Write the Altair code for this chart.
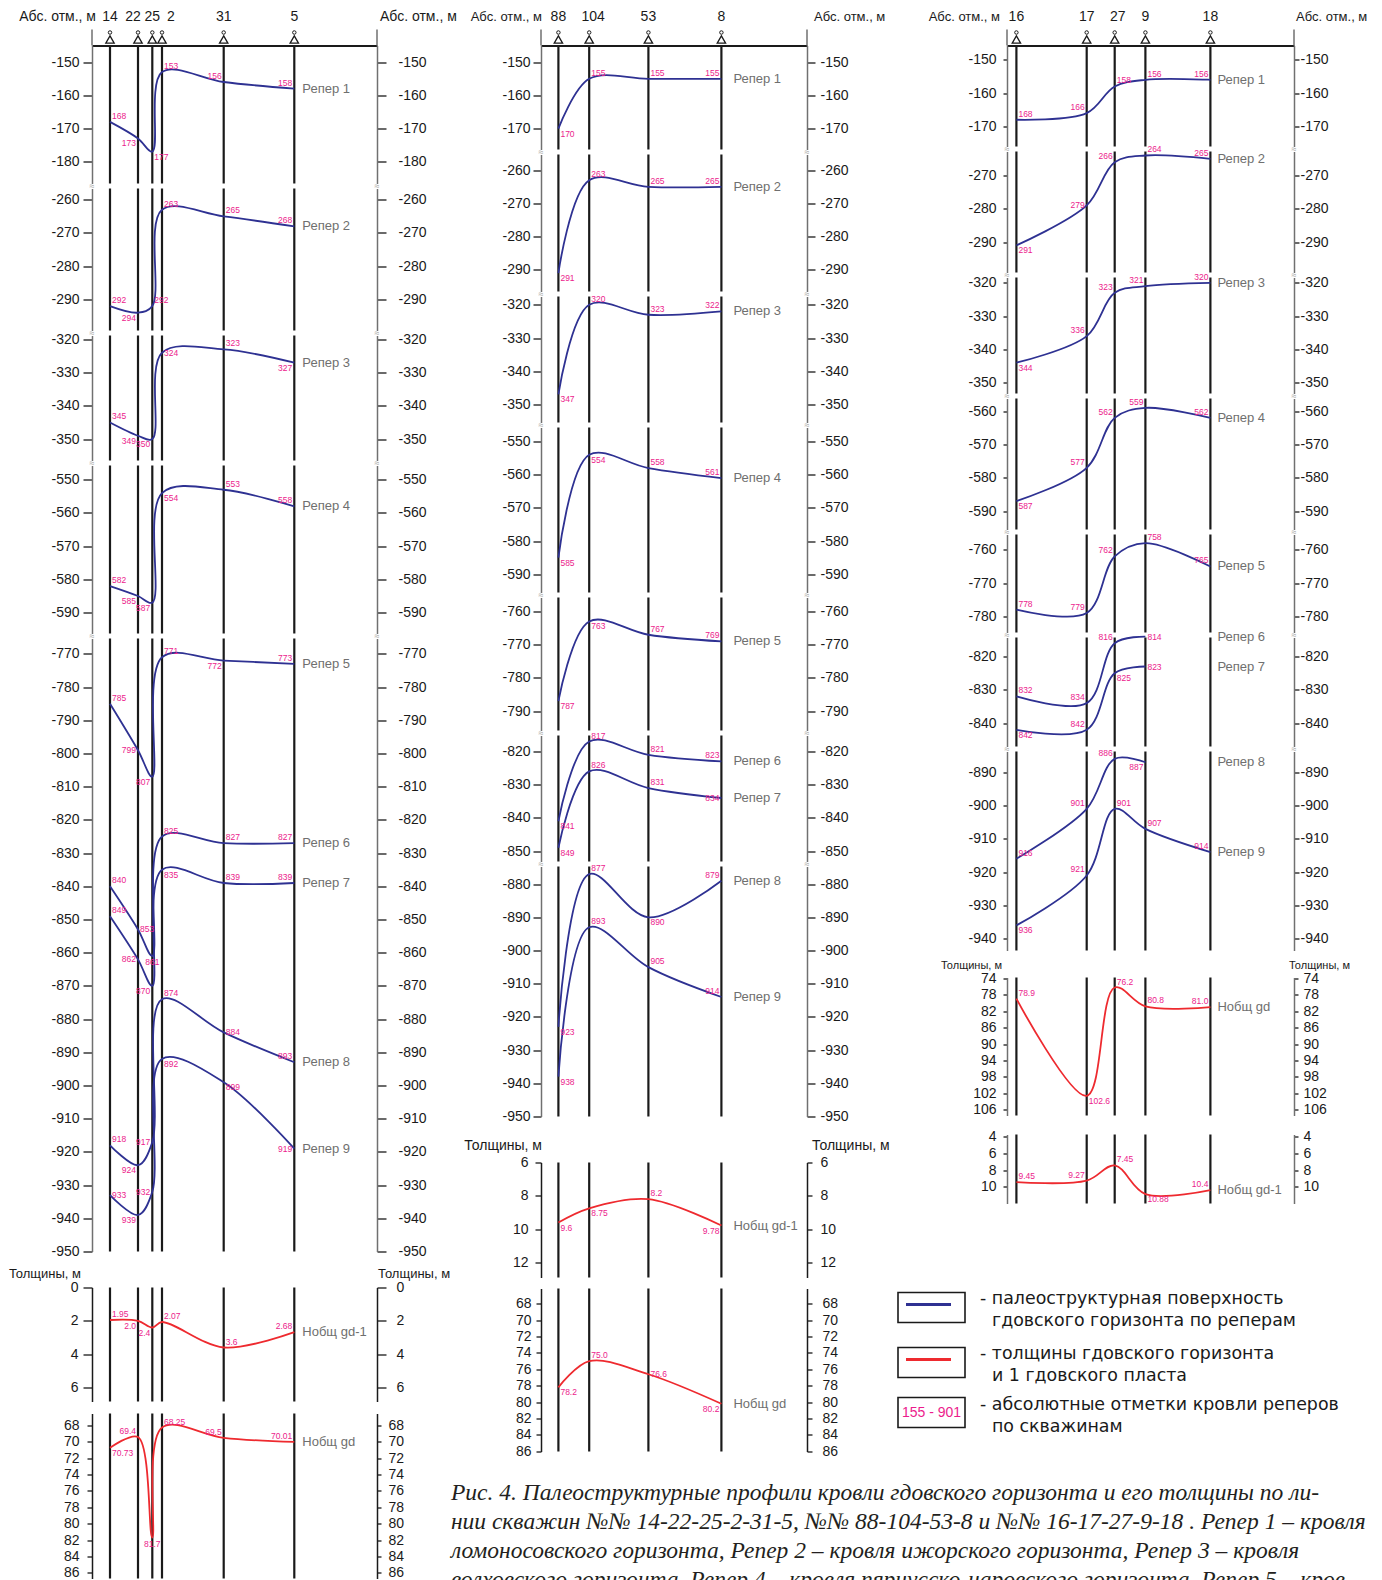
import altair as alt
import pandas as pd

FONT = "Liberation Sans"
SERIF = "Liberation Serif"
LEGFONT = "DejaVu Sans"
BLUE = "#2E3192"
RED = "#EE2A2F"
MAG = "#EC1C8C"
TAG = "#6F6F6F"
AXG = "#707070"
INK = "#1A1A1A"

# ---------------- column 1 : wells 14-22-25-2-31-5 ----------------
c1_wells = ["14", "22", "25", "2", "31", "5"]
c1_dist = [18, 46, 60.3, 70, 131.7, 202.3]
c1_extent = 285
c1_tag_shift = [0, -5, 0, 9, 0, 0]
c1_r1 = [-168, -173, -177, -153, -156, -158]
c1_r2 = [-292, -294, -292, -263, -265, -268]
c1_r3 = [-345, -349, -350, -324, -323, -327]
c1_r4 = [-582, -585, -587, -554, -553, -558]
c1_r5 = [-785, -799, -807, -771, -772, -773]
c1_r6 = [-840, -853, -861, -825, -827, -827]
c1_r7 = [-849, -862, -870, -835, -839, -839]
c1_r8 = [-918, -924, -917, -874, -884, -893]
c1_r9 = [-933, -939, -932, -892, -899, -919]
c1_gd1 = [1.95, 2.0, 2.4, 2.07, 3.6, 2.68]
c1_gd = [70.73, 69.4, 81.7, 68.25, 69.5, 70.01]

# ---------------- column 2 : wells 88-104-53-8 ----------------
c2_wells = ["88", "104", "53", "8"]
c2_dist = [17.4, 48.2, 107.4, 180.4]
c2_extent = 266
c2_tag_shift = [0, 4, 0, 0]
c2_r1 = [-170, -155, -155, -155]
c2_r2 = [-291, -263, -265, -265]
c2_r3 = [-347, -320, -323, -322]
c2_r4 = [-585, -554, -558, -561]
c2_r5 = [-787, -763, -767, -769]
c2_r6 = [-841, -817, -821, -823]
c2_r7 = [-849, -826, -831, -834]
c2_r8 = [-923, -877, -890, -879]
c2_r9 = [-938, -893, -905, -914]
c2_gd1 = [9.6, 8.75, 8.2, 9.78]
c2_gd = [78.2, 75.0, 76.6, 80.2]

# ---------------- column 3 : wells 16-17-27-9-18 ----------------
c3_wells = ["16", "17", "27", "9", "18"]
c3_dist = [9.4, 79.7, 107.7, 138.4, 203.4]
c3_extent = 287
c3_tag_shift = [0, 0, 3, 0, 0]
c3_r1 = [-168, -166, -158, -156, -156]
c3_r2 = [-291, -279, -266, -264, -265]
c3_r3 = [-344, -336, -323, -321, -320]
c3_r4 = [-587, -577, -562, -559, -562]
c3_r5 = [-778, -779, -762, -758, -765]
c3_r6 = [-832, -834, -816, -814, None]
c3_r7 = [-842, -842, -825, -823, None]
c3_r8 = [-916, -901, -886, -887, None]
c3_r9 = [-936, -921, -901, -907, -914]
c3_gd = [78.9, 102.6, 76.2, 80.8, 81.0]
c3_gd1 = [9.45, 9.27, 7.45, 10.88, 10.4]

# label placement codes (r/l/c = side, a/b/m = above/below/middle)
c1_place = {
    "Репер 1": ["ra", "lb", "rb", "ra", "la", "la"],
    "Репер 2": ["ra", "lb", "ra", "ra", "ra", "la"],
    "Репер 3": ["ra", "lb", "lb", "rm", "ra", "lb"],
    "Репер 4": ["ra", "lb", "lb", "rb", "ra", "la"],
    "Репер 5": ["ra", "lm", "lb", "ra", "lb", "la"],
    "Репер 6": ["ra", "rm", "cb", "ra", "ra", "la"],
    "Репер 7": ["ra", "lm", "lb", "rb", "ra", "la"],
    "Репер 8": ["ra", "lb", "lm", "ra", "rm", "la"],
    "Репер 9": ["rm", "lb", "lm", "rb", "rb", "lm"],
    "Нобщ gd-1": ["ra", "lb", "lb", "ra", "ra", "la"],
    "Нобщ gd": ["rb", "la", "cb", "ra", "la", "la"],
}
c2_place = {
    "Репер 1": ["rb", "ra", "ra", "la"],
    "Репер 2": ["rb", "ra", "ra", "la"],
    "Репер 3": ["rb", "ra", "ra", "la"],
    "Репер 4": ["rb", "rb", "ra", "la"],
    "Репер 5": ["rb", "rb", "ra", "la"],
    "Репер 6": ["rb", "ra", "ra", "la"],
    "Репер 7": ["rb", "ra", "ra", "lm"],
    "Репер 8": ["rb", "ra", "rb", "la"],
    "Репер 9": ["rb", "ra", "ra", "la"],
    "Нобщ gd-1": ["rb", "rb", "ra", "lb"],
    "Нобщ gd": ["rb", "ra", "rm", "lb"],
}
c3_place = {
    "Репер 1": ["ra", "la", "ra", "ra", "la"],
    "Репер 2": ["rb", "lm", "la", "ra", "la"],
    "Репер 3": ["rb", "la", "la", "la", "la"],
    "Репер 4": ["rb", "la", "la", "la", "la"],
    "Репер 5": ["ra", "la", "la", "ra", "la"],
    "Репер 6": ["ra", "la", "la", "rm", "la"],
    "Репер 7": ["rb", "la", "rb", "rm", "la"],
    "Репер 8": ["ra", "la", "la", "lb", "la"],
    "Репер 9": ["rb", "la", "ra", "ra", "la"],
    "Нобщ gd": ["ra", "rb", "ra", "ra", "la"],
    "Нобщ gd-1": ["ra", "la", "ra", "rb", "la"],
}

PLACE = {
    "ra": ("left", "bottom", 2, -1),
    "rb": ("left", "top", 2, 1),
    "rm": ("left", "middle", 2, 0),
    "la": ("right", "bottom", -2, -1),
    "lb": ("right", "top", -2, 1),
    "lm": ("right", "middle", -2, 0),
    "cb": ("center", "top", 0, 2),
}

C1 = dict(wells=c1_wells, dist=c1_dist, extent=c1_extent, shift=c1_tag_shift, place=c1_place,
          series={"Репер 1": c1_r1, "Репер 2": c1_r2, "Репер 3": c1_r3, "Репер 4": c1_r4,
                  "Репер 5": c1_r5, "Репер 6": c1_r6, "Репер 7": c1_r7, "Репер 8": c1_r8,
                  "Репер 9": c1_r9, "Нобщ gd-1": c1_gd1, "Нобщ gd": c1_gd},
          abs_dx=(4, 3), abs_size=14, tag_dx=8)
C2 = dict(wells=c2_wells, dist=c2_dist, extent=c2_extent, shift=c2_tag_shift, place=c2_place,
          series={"Репер 1": c2_r1, "Репер 2": c2_r2, "Репер 3": c2_r3, "Репер 4": c2_r4,
                  "Репер 5": c2_r5, "Репер 6": c2_r6, "Репер 7": c2_r7, "Репер 8": c2_r8,
                  "Репер 9": c2_r9, "Нобщ gd-1": c2_gd1, "Нобщ gd": c2_gd},
          abs_dx=(1, 7), abs_size=13, tag_dx=12)
C3 = dict(wells=c3_wells, dist=c3_dist, extent=c3_extent, shift=c3_tag_shift, place=c3_place,
          series={"Репер 1": c3_r1, "Репер 2": c3_r2, "Репер 3": c3_r3, "Репер 4": c3_r4,
                  "Репер 5": c3_r5, "Репер 6": c3_r6, "Репер 7": c3_r7, "Репер 8": c3_r8,
                  "Репер 9": c3_r9, "Нобщ gd-1": c3_gd1, "Нобщ gd": c3_gd},
          abs_dx=(-7, 2), abs_size=13, tag_dx=7)


def xs(col):
    return alt.Scale(domain=[0, col["extent"]], nice=False, zero=False)


def frames(col):
    wells = pd.DataFrame({"w": col["wells"], "d": col["dist"], "sh": col["shift"]})
    edges = pd.DataFrame({"d": [0, col["extent"]]})
    return wells, edges


def header(col):
    W = col["extent"]
    H = 16
    wells, edges = frames(col)
    ax = alt.Axis(orient="bottom", domain=True, domainColor=INK, domainWidth=2, ticks=False,
                  labels=False, grid=False, title=None)

    def X(f):
        return alt.X(f + ":Q", scale=xs(col), axis=ax)

    one = pd.DataFrame({"t": ["Абс. отм., м"]})
    fs = col["abs_size"]
    L = [
        alt.Chart(edges).mark_rule(color=AXG, strokeWidth=1.5).encode(x=X("d")),
        alt.Chart(wells).mark_point(shape="triangle-up", filled=False, size=70, color=INK,
                                    strokeWidth=1.3, opacity=1).encode(x=X("d"), y=alt.value(H - 6)),
        alt.Chart(wells).mark_point(shape="circle", filled=False, size=12, color=INK,
                                    strokeWidth=1, opacity=1).encode(x=X("d"), y=alt.value(H - 13)),
        alt.Chart(wells).transform_calculate(lx="datum.d + datum.sh").mark_text(
            font=FONT, fontSize=14, color=INK, baseline="middle").encode(
            x=X("lx"), y=alt.value(-13), text="w:N"),
        alt.Chart(one).mark_text(font=FONT, fontSize=fs, color=INK, align="right", baseline="middle",
                                 dx=col["abs_dx"][0]).encode(x=alt.value(0), y=alt.value(-13), text="t:N"),
        alt.Chart(one).mark_text(font=FONT, fontSize=fs, color=INK, align="left", baseline="middle",
                                 dx=col["abs_dx"][1]).encode(x=alt.value(W), y=alt.value(-13), text="t:N"),
    ]
    return alt.layer(*L).properties(width=W, height=H)


def spacer(col, h, brk=True, label=None):
    W = col["extent"]
    _, edges = frames(col)
    L = [alt.Chart(edges).mark_text(text="≈", font=FONT, fontSize=9, color="#9a9a9a",
                                    opacity=1 if brk else 0).encode(
        x=alt.X("d:Q", scale=xs(col), axis=None), y=alt.value(h / 2))]
    if label:
        size, ly, ldx, rdx = label
        one = pd.DataFrame({"t": ["Толщины, м"]})
        L.append(alt.Chart(one).mark_text(font=FONT, fontSize=size, color=INK, align="right",
                                          baseline="middle", dx=ldx).encode(
            x=alt.value(0), y=alt.value(ly), text="t:N"))
        L.append(alt.Chart(one).mark_text(font=FONT, fontSize=size, color=INK, align="left",
                                          baseline="middle", dx=rdx).encode(
            x=alt.value(W), y=alt.value(ly), text="t:N"))
    return alt.layer(*L).properties(width=W, height=h)


def yaxis(orient, ticks, tick, pad, dcol):
    return alt.Axis(orient=orient, values=ticks, title=None, grid=False, tickSize=tick,
                    tickColor=INK, tickWidth=1.3, domainColor=dcol, domainWidth=1.5,
                    labelPadding=pad, labelFont=FONT, labelFontSize=14, labelColor=INK,
                    labelFlush=False, labelOverlap=False, labelBound=False,
                    labelExpr="'' + datum.value")


def panel(col, names, top, bottom, h, ticks, kind, ax):
    W = col["extent"]
    if kind == "elev":
        ys = alt.Scale(domain=[bottom, top], nice=False, zero=False)
        color = BLUE
    else:
        ys = alt.Scale(domain=[top, bottom], reverse=True, nice=False, zero=False)
        color = RED
    rows = []
    tags = []
    last_d = max(col["dist"])
    for nm in names:
        vals = col["series"][nm]
        pos = col["place"][nm]
        lastv = None
        for i, v in enumerate(vals):
            if v is None:
                continue
            t = str(-int(v)) if kind == "elev" else str(v)
            rows.append(dict(s=nm, d=col["dist"][i], v=v, t=t, p=pos[i]))
            lastv = v
        tags.append(dict(s=nm, d=last_d, v=lastv))
    df = pd.DataFrame(rows)
    tg = pd.DataFrame(tags)
    wells, _ = frames(col)
    xenc = alt.X("d:Q", scale=xs(col), axis=None)
    lt, lp, rt, rp, dcol = ax
    L = [
        alt.Chart(wells).mark_rule(color=INK, strokeWidth=2.2).encode(x=xenc),
        alt.Chart(df).mark_line(interpolate="catmull-rom", color=color, strokeWidth=1.8).encode(
            x=xenc, y=alt.Y("v:Q", scale=ys, axis=yaxis("left", ticks, lt, lp, dcol)), detail="s:N"),
        alt.Chart(df).mark_point(opacity=0).encode(
            x=xenc, y=alt.Y("v:Q", scale=ys, axis=yaxis("right", ticks, rt, rp, dcol))),
    ]
    for code, (al, bl, dx, dy) in PLACE.items():
        L.append(alt.Chart(df).transform_filter(alt.datum.p == code).mark_text(
            font=FONT, fontSize=8.5, color=MAG, align=al, baseline=bl, dx=dx, dy=dy).encode(
            x=xenc, y=alt.Y("v:Q", scale=ys, axis=None), text="t:N"))
    L.append(alt.Chart(tg).mark_text(font=FONT, fontSize=13, color=TAG, align="left",
                                     baseline="middle", dx=col["tag_dx"]).encode(
        x=xenc, y=alt.Y("v:Q", scale=ys, axis=None), text="s:N"))
    return alt.layer(*L).resolve_scale(y="independent").properties(width=W, height=h)


def legend(col):
    W = col["extent"]
    one = pd.DataFrame({"k": [0]})
    base = alt.Chart(one)
    L = []
    for y0 in [1, 56, 106]:
        L.append(base.mark_rect(fill="white", stroke=INK, strokeWidth=1.6).encode(
            x=alt.value(-109), x2=alt.value(-42), y=alt.value(y0), y2=alt.value(y0 + 30)))
    L.append(base.mark_rule(color=BLUE, strokeWidth=3).encode(
        x=alt.value(-101), x2=alt.value(-56), y=alt.value(13)))
    L.append(base.mark_rule(color=RED, strokeWidth=3).encode(
        x=alt.value(-101), x2=alt.value(-56), y=alt.value(68)))
    L.append(base.mark_text(font=FONT, fontSize=14, color=MAG, align="center", baseline="middle").encode(
        x=alt.value(-75.5), y=alt.value(121.5), text=alt.value("155 - 901")))
    lines = [
        ("- палеоструктурная поверхность", -27, 7),
        ("гдовского горизонта по реперам", -15, 29),
        ("- толщины гдовского горизонта", -27, 62.5),
        ("и 1 гдовского пласта", -15, 84),
        ("- абсолютные отметки кровли реперов", -27, 113),
        ("по скважинам", -15, 135),
    ]
    for txt, x0, y0 in lines:
        L.append(base.mark_text(font=LEGFONT, fontSize=17.4, color=INK, align="left", baseline="middle").encode(
            x=alt.value(x0), y=alt.value(y0), text=alt.value(txt)))
    return alt.layer(*L).properties(width=W, height=140)


def ticks(a, b, step):
    out = []
    v = a
    while (step > 0 and v <= b) or (step < 0 and v >= b):
        out.append(v)
        v += step
    return out


E1 = (9, 4, 9, 12, AXG)
col1 = alt.vconcat(
    header(C1),
    panel(C1, ["Репер 1"], -145.0, -186.57, 138, ticks(-150, -180, -10), "elev", E1),
    spacer(C1, 5),
    panel(C1, ["Репер 2"], -256.6, -299.37, 142, ticks(-260, -290, -10), "elev", E1),
    spacer(C1, 5),
    panel(C1, ["Репер 3"], -318.8, -356.45, 125, ticks(-320, -350, -10), "elev", E1),
    spacer(C1, 5),
    panel(C1, ["Репер 4"], -545.7, -596.3, 168, ticks(-550, -590, -10), "elev", E1),
    spacer(C1, 5),
    panel(C1, ["Репер 5", "Репер 6", "Репер 7", "Репер 8", "Репер 9"], -765.36, -950, 613,
          ticks(-770, -950, -10), "elev", E1),
    spacer(C1, 36, brk=False, label=(13, 22, -11, 1)),
    panel(C1, ["Нобщ gd-1"], 0, 6.84, 114, [0, 2, 4, 6], "thick", (9, 5, 9, 10, INK)),
    spacer(C1, 12, brk=False),
    panel(C1, ["Нобщ gd"], 66.53, 86.7, 165, ticks(68, 86, 2), "thick", (5, 8, 4, 7, INK)),
    spacing=0, bounds="flush",
)

E2 = (8, 3, 8, 5, AXG)
col2 = alt.vconcat(
    header(C2),
    panel(C2, ["Репер 1"], -144.97, -176.3, 104, ticks(-150, -170, -10), "elev", E2),
    spacer(C2, 5),
    panel(C2, ["Репер 2"], -255.27, -296.53, 137, ticks(-260, -290, -10), "elev", E2),
    spacer(C2, 5),
    panel(C2, ["Репер 3"], -317.5, -355.45, 126, ticks(-320, -350, -10), "elev", E2),
    spacer(C2, 5),
    panel(C2, ["Репер 4"], -545.78, -595.48, 165, ticks(-550, -590, -10), "elev", E2),
    spacer(C2, 5),
    panel(C2, ["Репер 5"], -755.78, -795.84, 133, ticks(-760, -790, -10), "elev", E2),
    spacer(C2, 5),
    panel(C2, ["Репер 6", "Репер 7"], -815.18, -853.13, 126, ticks(-820, -850, -10), "elev", E2),
    spacer(C2, 5),
    panel(C2, ["Репер 8", "Репер 9"], -874.7, -950, 250, ticks(-880, -950, -10), "elev", E2),
    spacer(C2, 46, brk=False, label=(14, 29, 1, 5)),
    panel(C2, ["Нобщ gd-1"], 6, 12.9, 115, [6, 8, 10, 12], "thick", (6, 7, 5, 8, INK)),
    spacer(C2, 11, brk=False),
    panel(C2, ["Нобщ gd"], 66.13, 86.03, 163, ticks(68, 86, 2), "thick", (5, 5, 5, 10, INK)),
    spacing=0, bounds="flush",
)

E3 = (4, 7, 5, 1, AXG)
col3 = alt.vconcat(
    header(C3),
    panel(C3, ["Репер 1"], -145.7, -176.03, 101, ticks(-150, -170, -10), "elev", E3),
    spacer(C3, 5),
    panel(C3, ["Репер 2"], -262.8, -299.14, 121, ticks(-270, -290, -10), "elev", E3),
    spacer(C3, 5),
    panel(C3, ["Репер 3"], -318.4, -353.24, 116, ticks(-320, -350, -10), "elev", E3),
    spacer(C3, 5),
    panel(C3, ["Репер 4"], -556.19, -595.53, 131, ticks(-560, -590, -10), "elev", E3),
    spacer(C3, 5),
    panel(C3, ["Репер 5"], -755.41, -784.84, 98, ticks(-760, -780, -10), "elev", E3),
    spacer(C3, 5),
    panel(C3, ["Репер 6", "Репер 7"], -814.29, -847.02, 109, ticks(-820, -840, -10), "elev", E3),
    spacer(C3, 5),
    panel(C3, ["Репер 8", "Репер 9"], -883.78, -943.54, 199, ticks(-890, -940, -10), "elev", E3),
    spacer(C3, 27, brk=False, label=(11, 15, -5, -5)),
    panel(C3, ["Нобщ gd"], 73.76, 107.4, 138, ticks(74, 106, 4), "thick", (4, 7, 4, 5, AXG)),
    spacer(C3, 19, brk=False),
    panel(C3, ["Нобщ gd-1"], 3.75, 12.0, 69, [4, 6, 8, 10], "thick", (4, 7, 4, 5, AXG)),
    spacer(C3, 88, brk=False),
    legend(C3),
    spacing=0, bounds="flush",
)

caption = [
    "Рис. 4. Палеоструктурные профили кровли гдовского горизонта и его толщины по ли-",
    "нии скважин №№ 14-22-25-2-31-5, №№ 88-104-53-8 и №№ 16-17-27-9-18 . Репер 1 – кровля",
    "ломоносовского горизонта, Репер 2 – кровля ижорского горизонта, Репер 3 – кровля",
    "волховского горизонта, Репер 4 – кровля пярнусско-наровского горизонта, Репер 5 – кров-",
]

chart = alt.hconcat(col1, col2, col3, spacing=7, bounds="full").properties(
    title=alt.TitleParams(text=caption, orient="bottom", anchor="start", frame="bounds",
                          font=SERIF, fontSize=23.5, fontStyle="italic", fontWeight="normal",
                          color="#231F20", lineHeight=29, dx=442, dy=-99, offset=0),
    padding={"left": 0, "top": 1.5, "right": 0, "bottom": 0},
).configure_view(stroke=None)

chart.save("out.html", embed_options={"renderer": "svg", "actions": False})
